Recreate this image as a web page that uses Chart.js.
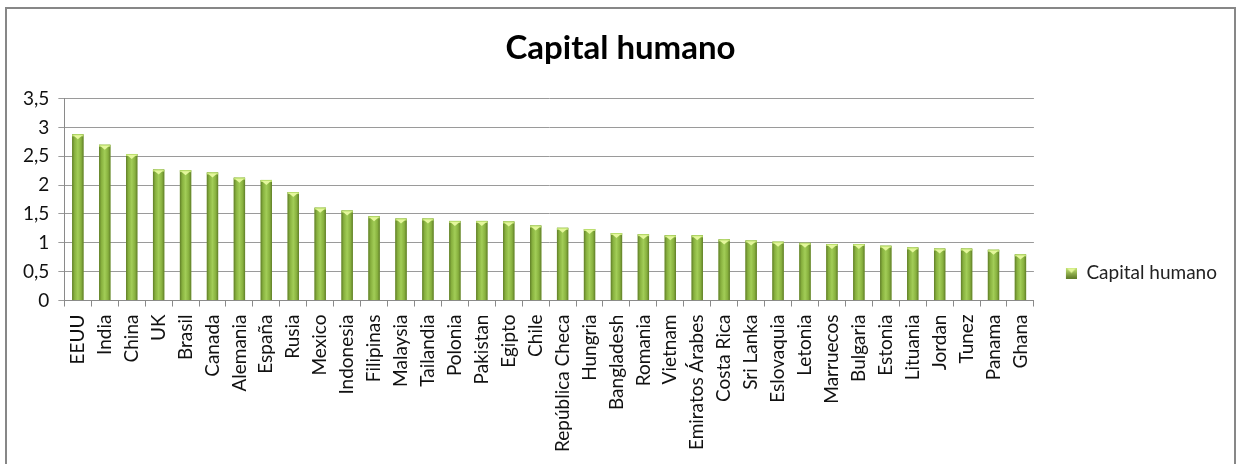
<!DOCTYPE html>
<html>
<head>
<meta charset="utf-8">
<script src="https://cdn.jsdelivr.net/npm/chart.js@4/dist/chart.umd.min.js"></script>
<style>
  html, body { margin: 0; padding: 0; background: #fff; }
  #wrap { position: relative; width: 1238px; height: 464px; overflow: hidden; }
  #frame { position: absolute; left: 5px; top: 7px; width: 1231px; height: 470px; border: 2px solid #878787; box-sizing: border-box; pointer-events: none; }
  canvas { position: absolute; left: 0; top: 0; }
</style>
</head>
<body>
<div id="wrap">
  <canvas id="c" width="1238" height="464"></canvas>
  <div id="frame"></div>
</div>
<script>
const chartTitle = 'Capital humano';
const seriesName = 'Capital humano';
const categories = ['EEUU','India','China','UK','Brasil','Canada','Alemania','España','Rusia','Mexico','Indonesia','Filipinas','Malaysia','Tailandia','Polonia','Pakistan','Egipto','Chile','República Checa','Hungria','Bangladesh','Romania','Vietnam','Emiratos Árabes','Costa Rica','Sri Lanka','Eslovaquia','Letonia','Marruecos','Bulgaria','Estonia','Lituania','Jordan','Tunez','Panama','Ghana'];
const values = [2.88,2.70,2.54,2.27,2.26,2.22,2.13,2.09,1.88,1.61,1.56,1.46,1.42,1.42,1.38,1.38,1.37,1.30,1.26,1.24,1.17,1.15,1.13,1.13,1.06,1.04,1.02,1.00,0.98,0.98,0.95,0.92,0.90,0.90,0.88,0.80];
const yTicks = ['0','0,5','1','1,5','2','2,5','3','3,5'];

const FONT = "Lato, 'Open Sans', sans-serif";

const barShade = {
  id: 'barShade',
  afterDatasetsDraw(chart) {
    const ctx = chart.ctx;
    const meta = chart.getDatasetMeta(0);
    ctx.save();
    meta.data.forEach(el => {
      const w = el.width, l = el.x - w / 2, r = el.x + w / 2, t = el.y, b = el.base;
      const g = ctx.createLinearGradient(l, 0, r, 0);
      g.addColorStop(0, '#607e28');
      g.addColorStop(0.2, '#87b03e');
      g.addColorStop(0.5, '#a2cd57');
      g.addColorStop(0.8, '#87b03e');
      g.addColorStop(1, '#607e28');
      ctx.fillStyle = g;
      ctx.fillRect(l, t, w, b - t);
      ctx.fillStyle = '#bcdf6e';
      ctx.fillRect(l, t, w, 2);
      ctx.beginPath();
      ctx.moveTo(l + 1, t + 1);
      ctx.lineTo(r - 1, t + 1);
      ctx.lineTo(el.x, t + 5);
      ctx.closePath();
      ctx.fillStyle = '#e4f79c';
      ctx.fill();
    });
    ctx.restore();
  }
};

// legend marker: 34px wide image, square drawn near its right end
const legendMarker = (() => {
  const cv = document.createElement('canvas');
  cv.width = 34; cv.height = 11;
  const c = cv.getContext('2d');
  const g = c.createLinearGradient(0, 0, 0, 11);
  g.addColorStop(0, '#c9ea78');
  g.addColorStop(1, '#5e7a28');
  c.fillStyle = g; c.fillRect(23, 0, 11, 11);
  c.beginPath(); c.moveTo(24, 1); c.lineTo(33, 1); c.lineTo(28.5, 5.5); c.closePath();
  c.fillStyle = '#e2f59a'; c.fill();
  return cv;
})();

new Chart(document.getElementById('c'), {
  type: 'bar',
  data: {
    labels: categories,
    datasets: [{
      label: seriesName,
      data: values,
      backgroundColor: '#86ad40',
      borderWidth: 0,
      barPercentage: 0.42,
      categoryPercentage: 1.0
    }]
  },
  options: {
    responsive: false,
    animation: false,
    layout: { padding: { left: 14, right: 11, top: 0, bottom: 4 } },
    plugins: {
      title: {
        display: true,
        text: chartTitle,
        color: '#000',
        font: { family: FONT, size: 33, weight: 'bold' },
        padding: { top: 29, bottom: 30 }
      },
      legend: {
        position: 'right',
        title: {
          display: true,
          text: ' ',
          color: 'rgba(0,0,0,0)',
          font: { size: 10 },
          padding: { top: 37, bottom: 37 }
        },
        labels: {
          font: { family: FONT, size: 19 },
          color: '#222',
          usePointStyle: true,
          pointStyle: legendMarker,
          pointStyleWidth: 34,
          boxWidth: 34,
          boxHeight: 11,
          padding: 9
        }
      },
      tooltip: { enabled: false }
    },
    scales: {
      x: {
        offset: true,
        grid: { display: true, drawOnChartArea: false, drawTicks: true, tickLength: 6, color: '#8a8a8a', offset: true },
        border: { display: true, color: '#8a8a8a' },
        ticks: {
          color: '#111',
          font: { family: FONT, size: 19 },
          minRotation: 90, maxRotation: 90,
          autoSkip: false,
          padding: 8
        }
      },
      y: {
        min: 0, max: 3.5,
        grid: { color: '#9a9a9a', tickLength: 6, lineWidth: 1 },
        border: { display: true, color: '#8a8a8a' },
        ticks: {
          stepSize: 0.5,
          color: '#111',
          font: { family: FONT, size: 19 },
          padding: 9,
          callback: (v, i) => yTicks[i]
        }
      }
    }
  },
  plugins: [barShade]
});
</script>
</body>
</html>
